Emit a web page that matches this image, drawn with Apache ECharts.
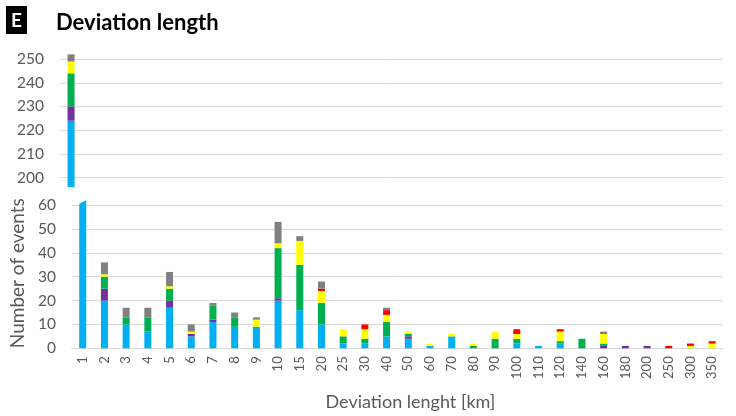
<!DOCTYPE html>
<html>
<head>
<meta charset="utf-8">
<script src="https://cdn.jsdelivr.net/npm/echarts@6/dist/echarts.min.js"></script>
<style>
  html, body { margin: 0; padding: 0; background: #ffffff; }
  #chart { width: 736px; height: 416px; }
</style>
</head>
<body>
<div id="chart"></div>
<script>
// Deviation length classes (km)
const categories = ['1','2','3','4','5','6','7','8','9','10','15','20','25','30','40','50','60','70','80','90','100','110','120','140','160','180','200','250','300','350'];

// Number of events per class, one array per stacked group (bottom to top)
const blueValues   = [224,20,10, 7,17, 5,11, 9, 9,20,16,10, 2, 2, 5, 4, 1, 5, 0, 0, 2, 1, 2, 0, 0, 0, 0, 0, 0, 0];
const purpleValues = [  6, 5, 0, 0, 3, 1, 1, 0, 0, 1, 0, 0, 0, 0, 0, 1, 0, 0, 0, 0, 0, 0, 0, 0, 1, 1, 1, 0, 0, 0];
const greenValues  = [ 14, 5, 3, 6, 5, 0, 6, 4, 0,21,19, 9, 3, 2, 6, 1, 0, 0, 1, 4, 2, 0, 1, 4, 1, 0, 0, 0, 0, 0];
const yellowValues = [  5, 1, 0, 0, 1, 1, 0, 0, 3, 2,10, 5, 3, 4, 3, 1, 1, 1, 1, 3, 2, 0, 4, 0, 4, 0, 0, 0, 1, 2];
const redValues    = [  0, 0, 0, 0, 0, 0, 0, 0, 0, 0, 0, 1, 0, 2, 2, 0, 0, 0, 0, 0, 2, 0, 1, 0, 0, 0, 0, 1, 1, 1];
const grayValues   = [  3, 5, 4, 4, 6, 3, 1, 2, 1, 9, 2, 3, 0, 0, 1, 0, 0, 0, 0, 0, 0, 0, 0, 0, 1, 0, 0, 0, 0, 0];

// Tick labels of the two parts of the broken value axis
const upperTicks = [200, 210, 220, 230, 240, 250];
const lowerTicks = [0, 10, 20, 30, 40, 50, 60];

const FONT = 'Lato, "Open Sans", sans-serif';
const TEXT_COLOR = '#595959';
const LINE_COLOR = '#d9d9d9';

const layers = [
  { name: 'blue',   data: blueValues,   color: '#00b0f0' },
  { name: 'purple', data: purpleValues, color: '#7030a0' },
  { name: 'green',  data: greenValues,  color: '#00b050' },
  { name: 'yellow', data: yellowValues, color: '#ffff00' },
  { name: 'red',    data: redValues,    color: '#ff0000' },
  { name: 'gray',   data: grayValues,   color: '#808080' }
];

// Upper panel (grid 0) shows 196..253, lower panel (grid 1) shows 0..63
const UPPER_MIN = 196, UPPER_MAX = 253;
const LOWER_MIN = 0, LOWER_MAX = 63;
const BAR_WIDTH = 7;

const series = [];
[0, 1].forEach(function (g) {
  layers.forEach(function (l) {
    series.push({
      type: 'bar',
      name: l.name,
      xAxisIndex: g,
      yAxisIndex: g,
      stack: 'events' + g,
      data: l.data,
      barWidth: BAR_WIDTH,
      clip: true,
      silent: true,
      itemStyle: { color: l.color }
    });
  });
});

const yAxisCommon = {
  type: 'value',
  axisLine: { show: false },
  axisTick: { show: false },
  axisLabel: { color: TEXT_COLOR, fontFamily: FONT, fontSize: 15.5, margin: 16 },
  splitLine: { lineStyle: { color: LINE_COLOR, width: 1 } }
};

const chart = echarts.init(document.getElementById('chart'), null, { renderer: 'canvas' });

chart.setOption({
  animation: false,
  title: {
    text: 'Deviation length',
    left: 51,
    top: 7,
    textStyle: { fontFamily: FONT, fontSize: 22, fontWeight: 'bold', color: '#000000' }
  },
  grid: [
    { left: 60, right: 13, top: 52, height: 135 },
    { left: 60, right: 13, top: 198, bottom: 67.7 }
  ],
  xAxis: [
    {
      type: 'category', gridIndex: 0, data: categories, show: false
    },
    {
      type: 'category', gridIndex: 1, data: categories,
      axisLine: { lineStyle: { color: LINE_COLOR, width: 1 } },
      axisTick: { show: false },
      axisLabel: { color: TEXT_COLOR, fontFamily: FONT, fontSize: 13, rotate: 90, margin: 8, interval: 0 },
      name: 'Deviation lenght [km]',
      nameLocation: 'middle',
      nameGap: 45,
      nameTextStyle: { color: TEXT_COLOR, fontFamily: FONT, fontSize: 18, padding: [0, 0, 0, 26] }
    }
  ],
  yAxis: [
    Object.assign({}, yAxisCommon, {
      gridIndex: 0, min: UPPER_MIN, max: UPPER_MAX,
      axisTick: { show: false, customValues: upperTicks },
      axisLabel: Object.assign({}, yAxisCommon.axisLabel, { customValues: upperTicks })
    }),
    Object.assign({}, yAxisCommon, {
      gridIndex: 1, min: LOWER_MIN, max: LOWER_MAX,
      axisTick: { show: false, customValues: lowerTicks },
      axisLabel: Object.assign({}, yAxisCommon.axisLabel, { customValues: lowerTicks }),
      name: 'Number of events',
      nameLocation: 'middle',
      nameGap: 43,
      nameTextStyle: { color: TEXT_COLOR, fontFamily: FONT, fontSize: 19 }
    })
  ],
  series: series
});

// Panel letter and the slanted cut through the bar that crosses the axis break
function decorate() {
  const cx = chart.convertToPixel({ xAxisIndex: 1 }, categories[0]);
  const yLow = function (v) { return chart.convertToPixel({ yAxisIndex: 1 }, v); };
  const yUp = function (v) { return chart.convertToPixel({ yAxisIndex: 0 }, v); };
  const h = BAR_WIDTH / 2 + 1.5;
  chart.setOption({
    graphic: [
      {
        type: 'rect', id: 'tagBox', left: 6, top: 6, z: 100,
        shape: { width: 21, height: 28 },
        style: { fill: '#000000' }
      },
      {
        type: 'text', id: 'tagText', x: 16.5, y: 20.5, z: 101,
        style: { text: 'E', fill: '#ffffff', font: 'bold 19px ' + FONT, align: 'center', verticalAlign: 'middle' }
      },
      {
        type: 'polygon', id: 'cutLow', z: 100,
        shape: { points: [
          [cx - h, yLow(LOWER_MAX) - 1], [cx - h, yLow(60.3)],
          [cx + h, yLow(62.4)], [cx + h, yLow(LOWER_MAX) - 1]
        ] },
        style: { fill: '#ffffff' }
      },
      {
        type: 'polygon', id: 'cutUp', z: 100,
        shape: { points: [
          [cx - h, yUp(196.2)], [cx + h, yUp(198.8)],
          [cx + h, yUp(UPPER_MIN) + 1], [cx - h, yUp(UPPER_MIN) + 1]
        ] },
        style: { fill: '#ffffff' }
      }
    ]
  });
}
decorate();
</script>
</body>
</html>
